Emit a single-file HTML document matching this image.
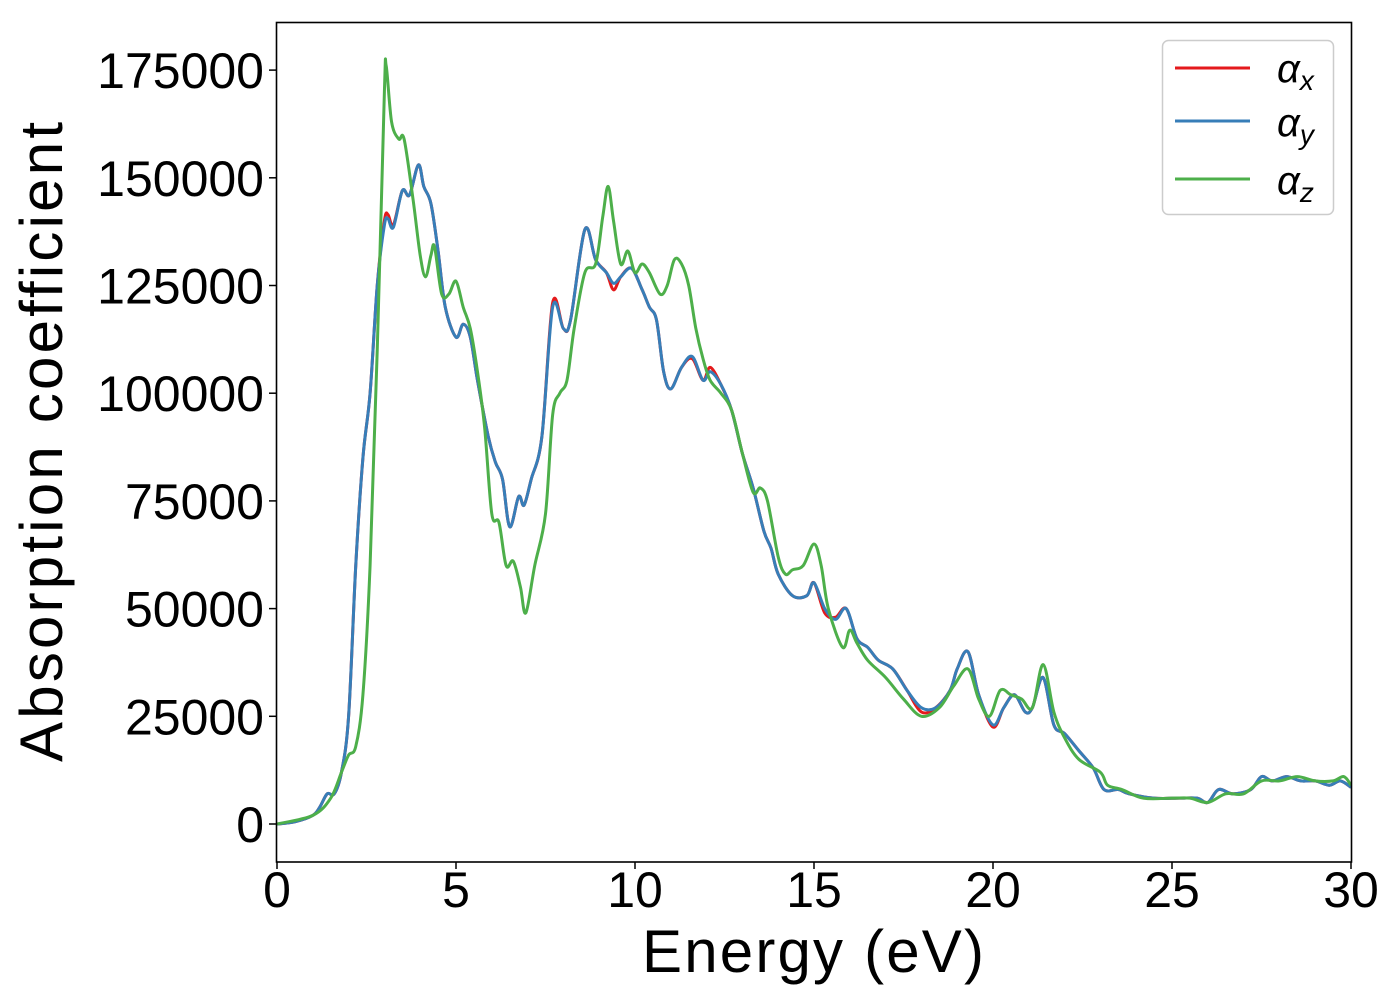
<!DOCTYPE html>
<html><head><meta charset="utf-8"><style>
html,body{margin:0;padding:0;background:#fff;}
svg{display:block;font-family:"Liberation Sans","DejaVu Sans",sans-serif;}
</style></head><body>
<svg id="chart" width="1400" height="1000" viewBox="0 0 1400 1000" xmlns="http://www.w3.org/2000/svg">
<g id="ticks"></g>
<g id="series"></g>
<rect x="276.5" y="22.5" width="1075" height="839.5" fill="none" stroke="#000" stroke-width="1.6"/>
<text x="813" y="972" font-size="60" text-anchor="middle" textLength="342">Energy (eV)</text>
<text transform="translate(62,442) rotate(-90)" font-size="60" text-anchor="middle" textLength="640">Absorption coefficient</text>
<g>
<rect x="1162.5" y="40.5" width="171" height="174" rx="6" fill="#fff" stroke="#ccc" stroke-width="1.5"/>
<line x1="1175" y1="68" x2="1250" y2="68" stroke="#e41a1c" stroke-width="3"/>
<line x1="1175" y1="121" x2="1250" y2="121" stroke="#377eb8" stroke-width="3"/>
<line x1="1175" y1="179" x2="1250" y2="179" stroke="#4daf4a" stroke-width="3"/>
<text x="1277" y="82" font-size="40" font-style="italic">α<tspan font-size="28" dy="8">x</tspan></text>
<text x="1277" y="136" font-size="40" font-style="italic">α<tspan font-size="28" dy="8">y</tspan></text>
<text x="1277" y="194" font-size="40" font-style="italic">α<tspan font-size="28" dy="8">z</tspan></text>
</g>
</svg>
<script>
const xTicks=[0,5,10,15,20,25,30];
const yTicks=[0,25000,50000,75000,100000,125000,150000,175000];
const energyXY=[0,0.5,1,1.2,1.4,1.6,1.8,2.0,2.2,2.4,2.6,2.8,3.0,3.1,3.25,3.5,3.7,3.95,4.1,4.3,4.5,4.7,5.0,5.2,5.4,5.6,5.9,6.1,6.3,6.5,6.75,6.9,7.1,7.4,7.7,8.0,8.2,8.6,8.9,9.2,9.4,9.6,9.9,10.2,10.4,10.6,10.8,11.0,11.3,11.6,11.9,12.1,12.4,12.7,13.0,13.3,13.6,13.8,14.0,14.4,14.8,15.0,15.3,15.6,15.9,16.2,16.5,16.8,17.2,17.6,18.0,18.4,18.8,19.0,19.3,19.6,20.0,20.3,20.6,20.9,21.1,21.4,21.7,22.0,22.4,22.8,23.1,23.5,23.8,24.5,25.2,25.7,26.0,26.3,26.7,27.2,27.5,27.8,28.2,28.6,29.0,29.4,29.7,30];
const alphaX=[0,500,2000,4000,7000,7000,12000,25000,60000,85000,100000,125000,140000,141500,139000,147000,146000,153000,148000,144000,133000,120000,113000,116000,113000,103000,90000,84000,80000,69000,76000,74000,80000,90000,121000,115000,117000,138000,131000,128000,124000,127000,129000,124000,120000,117000,105000,101000,106000,108000,103000,106000,102000,96000,86000,78000,68000,64000,58000,53000,53000,56000,49000,48000,50000,43000,41000,38000,36000,31000,26000,27000,31000,36000,40000,30000,22500,27000,30000,26000,27000,34000,23000,21000,17000,13000,8000,8000,7000,6000,6000,6000,5000,8000,7000,8000,11000,10000,11000,10000,10000,9000,10000,8500];
const alphaY=[0,500,2000,4000,7000,7000,12000,25000,60000,85000,100000,125000,139000,140500,138500,147000,146000,153000,148000,144000,133000,120000,113000,116000,113000,103000,90000,84000,80000,69000,76000,74000,80000,90000,120000,115000,117000,138000,131000,128000,125500,127000,129000,124000,120000,117000,105000,101000,106000,108500,103000,105000,102000,96000,86000,78000,68000,64000,58000,53000,53000,56000,50000,47500,50000,43000,41000,38000,36000,31000,27000,27000,31000,36000,40000,30000,23000,27000,30000,26000,27000,34000,23000,21000,17000,13000,8000,8000,7000,6000,6000,6000,5000,8000,7000,8000,11000,10000,11000,10000,10000,9000,10000,8500];
const energyZ=[0,1,1.5,1.8,2.0,2.2,2.4,2.6,2.8,3.0,3.05,3.2,3.4,3.55,3.8,4.0,4.15,4.3,4.4,4.6,4.8,5.0,5.2,5.4,5.6,5.8,6.0,6.2,6.4,6.6,6.8,6.95,7.2,7.5,7.7,7.9,8.1,8.3,8.6,8.9,9.1,9.25,9.4,9.6,9.8,10.0,10.2,10.4,10.7,10.9,11.1,11.3,11.5,11.7,11.9,12.1,12.4,12.7,13.0,13.3,13.5,13.7,14.0,14.2,14.4,14.7,15.0,15.2,15.4,15.8,16.0,16.2,16.5,17.0,17.5,18.0,18.5,18.9,19.3,19.6,19.9,20.2,20.5,20.8,21.1,21.4,21.7,22.0,22.4,23.0,23.2,23.6,24.2,25.0,25.5,26.0,26.5,27.0,27.5,28.0,28.5,29.0,29.5,29.8,30];
const alphaZ=[0,2000,6000,12000,16000,18000,30000,60000,110000,170000,176000,163000,159000,159000,145000,132000,127000,132000,134000,123000,123000,126000,120000,115000,105000,92000,72000,70000,60000,61000,55000,49000,60000,72000,95000,100000,103000,115000,128000,130000,141000,148000,140000,130000,133000,128000,130000,128000,123000,125000,131000,130000,125000,115000,108000,103000,100000,96000,86000,77000,78000,75000,62000,58000,59000,60000,65000,60000,50000,41000,45000,42000,38000,34000,29000,25000,27000,32000,36000,29000,25000,31000,30000,29000,27000,37000,26000,20000,15000,12000,9000,8000,6000,6000,6000,5000,7000,7000,10000,10000,11000,10000,10000,11000,9000];

const NS='http://www.w3.org/2000/svg';
const X=e=>277+e*35.8;
const Y=v=>824-v/25000*107.7;
const tg=document.getElementById('ticks');
xTicks.forEach(t=>{
  const l=document.createElementNS(NS,'line');
  
  
  l.setAttribute('x1',X(t));l.setAttribute('x2',X(t));l.setAttribute('y1',862);l.setAttribute('y2',869);l.setAttribute('stroke','#000');l.setAttribute('stroke-width','1.5');
  tg.appendChild(l);
  const s=document.createElementNS(NS,'text');
  
  
  s.setAttribute('x',X(t));s.setAttribute('y',907);s.setAttribute('font-size','50');s.setAttribute('text-anchor','middle');
  s.textContent=t;tg.appendChild(s);
});
yTicks.forEach(t=>{
  const l=document.createElementNS(NS,'line');
  
  
  l.setAttribute('x1',269);l.setAttribute('x2',276);l.setAttribute('y1',Y(t));l.setAttribute('y2',Y(t));l.setAttribute('stroke','#000');l.setAttribute('stroke-width','1.5');
  tg.appendChild(l);
  const s=document.createElementNS(NS,'text');
  
  
  s.setAttribute('x',264);s.setAttribute('y',Y(t)+18);s.setAttribute('font-size','50');s.setAttribute('text-anchor','end');
  s.textContent=t;tg.appendChild(s);
});
function smooth(xs,ys){
  const p=xs.map((e,i)=>[X(e),Y(ys[i])]);
  let d='M'+p[0][0]+','+p[0][1];
  for(let i=0;i<p.length-1;i++){
    const p0=p[Math.max(0,i-1)],p1=p[i],p2=p[i+1],p3=p[Math.min(p.length-1,i+2)];
    const c1=[p1[0]+(p2[0]-p0[0])/6,p1[1]+(p2[1]-p0[1])/6];
    const c2=[p2[0]-(p3[0]-p1[0])/6,p2[1]-(p3[1]-p1[1])/6];
    d+=' C'+c1.join(',')+' '+c2.join(',')+' '+p2.join(',');
  }
  return d;
}
const sg=document.getElementById('series');
[[energyXY,alphaX,'#e41a1c','series-alpha-x'],[energyXY,alphaY,'#377eb8','series-alpha-y'],[energyZ,alphaZ,'#4daf4a','series-alpha-z']].forEach(s=>{
  const p=document.createElementNS(NS,'path');
  
  
  p.setAttribute('d',smooth(s[0],s[1]));p.setAttribute('fill','none');p.setAttribute('stroke',s[2]);p.setAttribute('stroke-width','3');p.setAttribute('stroke-linejoin','round');
  sg.appendChild(p);
});
</script>
</body></html>
